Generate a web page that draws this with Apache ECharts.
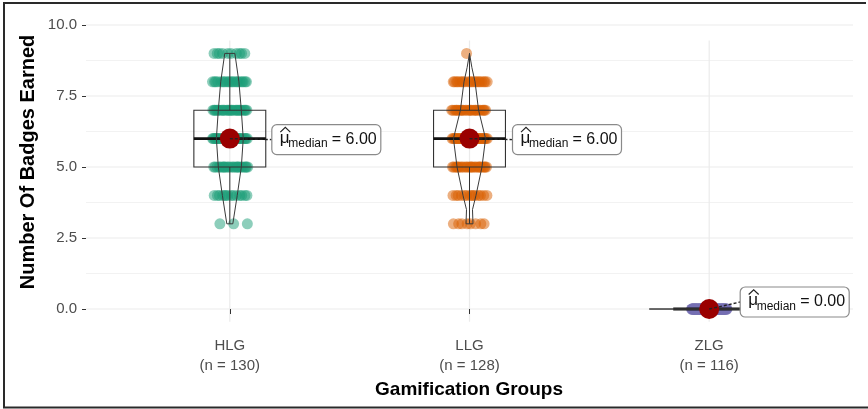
<!DOCTYPE html>
<html><head><meta charset="utf-8">
<script src="https://cdn.jsdelivr.net/npm/echarts@6/dist/echarts.min.js"></script>
<style>html,body{margin:0;padding:0;background:#fff}#c{width:868px;height:409px}</style>
</head><body><div id="c"></div>
<script>
// ---------- data ----------
const categories = ['HLG', 'LLG', 'ZLG'];
const sampleSizes = [130, 128, 116];
const badgeLevels = [0, 3, 4, 5, 6, 7, 8, 9];
const hlgCounts = [0, 3, 14, 24, 30, 29, 20, 10];
const llgCounts = [0, 8, 14, 25, 34, 26, 20, 1];
const zlgCounts = [116, 0, 0, 0, 0, 0, 0, 0];
const medians = [6, 6, 0];
const lowerQuartiles = [5, 5, 0];
const upperQuartiles = [7, 7, 0];
const whiskerLows = [3, 3, 0];
const whiskerHighs = [9, 9, 0];
const yTicks = [0, 2.5, 5, 7.5, 10];
const yMinorGrid = [1.25, 3.75, 6.25, 8.75];
// violin outline half-widths (x-axis units)
const hlgViolinLevels = [3, 4, 5, 6, 7, 8, 9];
const hlgViolinWidths = [0.0125, 0.031, 0.048, 0.056, 0.048, 0.038, 0.021];
const llgViolinLevels = [3, 3.5, 4, 5, 6, 7, 8, 8.5, 9];
const llgViolinWidths = [0.0146, 0.0125, 0.027, 0.052, 0.067, 0.038, 0.023, 0.01, 0];
const zlgViolinLevels = [0];
const zlgViolinWidths = [0.25];

// ---------- layout / style ----------
const groupColors = ['#1B9E77', '#D95F02', '#7570B3'];
const JITTER = 0.075;
const BOX_HALF = 0.15;
const labelOffsets = [[42, -14], [43, -14], [31, -22]]; // px from median point to label box top-left
const LABEL_W = 109, LABEL_H = 30;
const FONT = '"Liberation Sans", Arial, sans-serif';

const countsByGroup = [hlgCounts, llgCounts, zlgCounts];
const violins = [
  [hlgViolinLevels, hlgViolinWidths],
  [llgViolinLevels, llgViolinWidths],
  [zlgViolinLevels, zlgViolinWidths]
];

function jitterPoints(gi) {
  const pts = [];
  countsByGroup[gi].forEach((c, li) => {
    for (let i = 0; i < c; i++) {
      const f = ((i + 1) * 0.6180339887 + li * 0.37 + gi * 0.21) % 1;
      pts.push([gi + 1 + (2 * f - 1) * JITTER, badgeLevels[li]]);
    }
  });
  return pts;
}

// grid lines: [x1, y1, x2, y2, kind]
const gridData = [];
yTicks.forEach(v => gridData.push([0.4, v, 3.6, v, 0]));
yMinorGrid.forEach(v => gridData.push([0.4, v, 3.6, v, 1]));
categories.forEach((c, i) => gridData.push([i + 1, -0.45, i + 1, 9.45, 0]));

const chart = echarts.init(document.getElementById('c'), null, {renderer: 'canvas'});

const series = [];
series.push({
  type: 'custom', name: 'grid', z: 0, silent: true,
  data: gridData,
  renderItem: (params, api) => {
    const a = api.coord([api.value(0), api.value(1)]);
    const b = api.coord([api.value(2), api.value(3)]);
    const minor = api.value(4) === 1;
    return {type: 'line', shape: {x1: a[0], y1: a[1], x2: b[0], y2: b[1]},
      style: {stroke: minor ? '#F0F0F0' : '#EBEBEB', lineWidth: minor ? 0.9 : 1.2}};
  }
});

categories.forEach((c, gi) => {
  series.push({
    type: 'scatter', name: c + ' points', z: 2, silent: true,
    data: jitterPoints(gi), symbol: 'circle', symbolSize: 11,
    itemStyle: {color: groupColors[gi], opacity: 0.5}
  });
});

// box plots
series.push({
  type: 'custom', name: 'box', z: 3, silent: true,
  data: categories.map((c, i) => [i + 1, lowerQuartiles[i], medians[i], upperQuartiles[i], whiskerLows[i], whiskerHighs[i]]),
  renderItem: (params, api) => {
    const x = api.value(0);
    const q1 = api.coord([x - BOX_HALF, api.value(1)]);
    const q3 = api.coord([x + BOX_HALF, api.value(3)]);
    const mL = api.coord([x - BOX_HALF, api.value(2)]);
    const mR = api.coord([x + BOX_HALF, api.value(2)]);
    const c = api.coord([x, api.value(2)]);
    const lo = api.coord([x, api.value(4)]);
    const hi = api.coord([x, api.value(5)]);
    const children = [];
    if (q1[1] - q3[1] > 0.5) {
      children.push({type: 'rect', shape: {x: q1[0], y: q3[1], width: q3[0] - q1[0], height: q1[1] - q3[1]},
        style: {fill: 'none', stroke: '#333', lineWidth: 1.1}});
      children.push({type: 'line', shape: {x1: c[0], y1: q3[1], x2: c[0], y2: hi[1]}, style: {stroke: '#333', lineWidth: 1}});
      children.push({type: 'line', shape: {x1: c[0], y1: q1[1], x2: c[0], y2: lo[1]}, style: {stroke: '#333', lineWidth: 1}});
    }
    children.push({type: 'line', shape: {x1: mL[0], y1: mL[1], x2: mR[0], y2: mR[1]}, style: {stroke: '#111', lineWidth: 2.8}});
    return {type: 'group', children};
  }
});

// violins
series.push({
  type: 'custom', name: 'violin', z: 4, silent: true,
  data: categories.map((c, i) => [i + 1, i]),
  renderItem: (params, api) => {
    const x = api.value(0);
    const [lv, wd] = violins[api.value(1)];
    const pts = [];
    for (let k = 0; k < lv.length; k++) pts.push(api.coord([x - wd[k], lv[k]]));
    for (let k = lv.length - 1; k >= 0; k--) pts.push(api.coord([x + wd[k], lv[k]]));
    return {type: 'polygon', shape: {points: pts}, style: {fill: 'none', stroke: '#3a3a3a', lineWidth: 1}};
  }
});

// median points
series.push({
  type: 'scatter', name: 'median', z: 5, silent: true,
  data: medians.map((m, i) => [i + 1, m]), symbol: 'circle', symbolSize: 20,
  itemStyle: {color: '#9a0000', opacity: 1}
});

// median labels
series.push({
  type: 'custom', name: 'labels', z: 6, silent: true,
  data: medians.map((m, i) => [i + 1, m, i]),
  renderItem: (params, api) => {
    const p = api.coord([api.value(0), api.value(1)]);
    const off = labelOffsets[api.value(2)];
    const bx = p[0] + off[0], by = p[1] + off[1];
    const val = api.value(1).toFixed(2);
    return {type: 'group', children: [
      {type: 'line', shape: {x1: p[0], y1: p[1], x2: bx, y2: by + LABEL_H / 2},
        style: {stroke: '#222', lineWidth: 1.4, lineDash: [3, 2]}},
      {type: 'rect', shape: {x: bx, y: by, width: LABEL_W, height: LABEL_H, r: 5},
        style: {fill: '#fff', stroke: '#8a8a8a', lineWidth: 1.2}},
      {type: 'polyline', shape: {points: [[bx + 8.5, by + 7.5], [bx + 13.5, by + 2.8], [bx + 18.5, by + 7.5]]},
        style: {fill: 'none', stroke: '#222', lineWidth: 1.2}},
      {type: 'text', x: bx + 8, y: by + 13.5, style: {text: 'μ', fill: '#111', font: '17px ' + FONT, align: 'left', verticalAlign: 'middle'}},
      {type: 'text', x: bx + 16.5, y: by + 19.3, style: {text: 'median', fill: '#111', font: '12px ' + FONT, align: 'left', verticalAlign: 'middle'}},
      {type: 'text', x: bx + 60, y: by + 14.8, style: {text: '= ' + val, fill: '#111', font: '16px ' + FONT, align: 'left', verticalAlign: 'middle'}}
    ]};
  }
});

chart.setOption({
  animation: false,
  backgroundColor: '#fff',
  grid: {left: 86, right: 15, top: 25, bottom: 87.2, containLabel: false},
  xAxis: {
    type: 'value', min: 0.4, max: 3.6,
    axisLine: {show: false}, splitLine: {show: false},
    axisTick: {show: true, customValues: [1, 2, 3], length: 5, lineStyle: {color: '#333', width: 1}},
    axisLabel: {
      customValues: [1, 2, 3], margin: 14, color: '#4D4D4D', fontSize: 15, lineHeight: 20, fontFamily: FONT,
      formatter: v => { const i = Math.round(v) - 1; return categories[i] + '\n(n = ' + sampleSizes[i] + ')'; }
    }
  },
  yAxis: {
    type: 'value', min: -0.45, max: 10,
    axisLine: {show: false}, splitLine: {show: false},
    axisTick: {show: true, customValues: yTicks, length: 4, lineStyle: {color: '#333', width: 1}},
    axisLabel: {customValues: yTicks, margin: 9, color: '#4D4D4D', fontSize: 15, fontFamily: FONT,
      formatter: v => v.toFixed(1)}
  },
  graphic: [
    {type: 'polyline', silent: true, shape: {points: [[866, 3], [4, 3], [4, 407.5], [868, 407.5]]},
      style: {fill: 'none', stroke: '#2a2a2a', lineWidth: 2}},
    {type: 'text', x: 28, y: 162, rotation: Math.PI / 2, silent: true,
      style: {text: 'Number Of Badges Earned', font: 'bold 20px ' + FONT, fill: '#000', align: 'center', verticalAlign: 'middle'}},
    {type: 'text', x: 469, y: 390, silent: true,
      style: {text: 'Gamification Groups', font: 'bold 19px ' + FONT, fill: '#000', align: 'center', verticalAlign: 'middle'}}
  ],
  series
});
</script>
</body></html>
